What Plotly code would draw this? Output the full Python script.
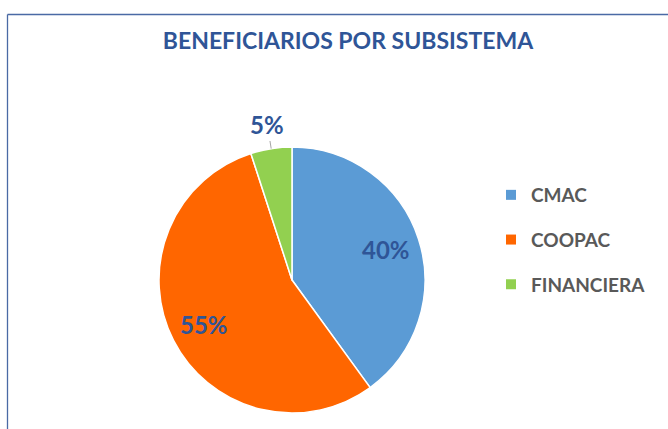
import math
import plotly.graph_objects as go

categories = ["CMAC", "COOPAC", "FINANCIERA"]
values = [40, 55, 5]
colors = ["#5B9BD5", "#FF6600", "#92D050"]
title_text = "BENEFICIARIOS POR SUBSISTEMA"

W, H = 668, 429
cx, cy, R = 292, 280, 133
label_color = "#2F5597"
border_color = "#4A6AA5"

fig = go.Figure()
fig.add_trace(go.Pie(
    labels=categories,
    values=values,
    sort=False,
    direction="clockwise",
    rotation=0,
    marker=dict(colors=colors, line=dict(color="white", width=1.5)),
    textinfo="none",
    domain=dict(x=[(cx - R) / W, (cx + R) / W], y=[1 - (cy + R) / H, 1 - (cy - R) / H]),
    hoverinfo="label+percent",
    showlegend=False,
))

# legend entries (one per category) for wider spacing
for name, col in zip(categories, colors):
    fig.add_trace(go.Scatter(x=[None], y=[None], mode="markers", name=name, legendgroup=name,
                             marker=dict(symbol="square", size=10, color=col), hoverinfo="skip"))

# data labels placed at slice mid-angles
total = sum(values)
annotations = []
cum = 0
for i, v in enumerate(values):
    mid = (cum + v / 2) / total * 2 * math.pi
    cum += v
    pct = f"{round(v / total * 100)}%"
    sx, sy = math.sin(mid), -math.cos(mid)
    if v / total >= 0.1:
        px, py = cx + 0.74 * R * sx, cy + 0.74 * R * sy
        annotations.append(dict(x=px / W, y=1 - py / H, xref="paper", yref="paper", text=f"<b>{pct}</b>",
                                xanchor="center", yanchor="middle",
                                showarrow=False, font=dict(family="Lato", size=24, color=label_color)))
    else:
        ex, ey = cx + R * sx, cy + R * sy
        annotations.append(dict(x=ex / W, y=1 - ey / H, xref="paper", yref="paper", text=f"<b>{pct}</b>",
                                showarrow=True, arrowhead=0, arrowwidth=1, arrowcolor="#A6A6A6",
                                ax=0.18 * R * sx, ay=0.18 * R * sy, standoff=0,
                                font=dict(family="Lato", size=24, color=label_color)))

fig.update_layout(
    width=W, height=H,
    margin=dict(l=0, r=0, t=0, b=0),
    paper_bgcolor="white",
    plot_bgcolor="rgba(0,0,0,0)",
    xaxis=dict(visible=False),
    yaxis=dict(visible=False),
    title=dict(text="<b>" + title_text + "</b>", x=348 / W, xanchor="center", y=1 - 41 / H, yanchor="middle",
               font=dict(family="Lato", size=23, color=label_color)),
    legend=dict(x=491 / W, y=1 - 176 / H, xanchor="left", yanchor="top",
                font=dict(family="Lato", size=19, color="#595959", weight="bold"),
                itemsizing="trace", tracegroupgap=17, bgcolor="rgba(0,0,0,0)"),
    annotations=annotations,
    shapes=[
        dict(type="line", xref="paper", yref="paper", x0=7.5 / W, x1=1.0, y0=1 - 14.5 / H, y1=1 - 14.5 / H,
             line=dict(color=border_color, width=1.3), layer="above"),
        dict(type="line", xref="paper", yref="paper", x0=7.5 / W, x1=7.5 / W, y0=0, y1=1 - 14.5 / H,
             line=dict(color=border_color, width=1.3), layer="above"),
    ],
)

fig.write_html("out.html", config={"displayModeBar": False},
               post_script="document.body.style.margin='0';")
